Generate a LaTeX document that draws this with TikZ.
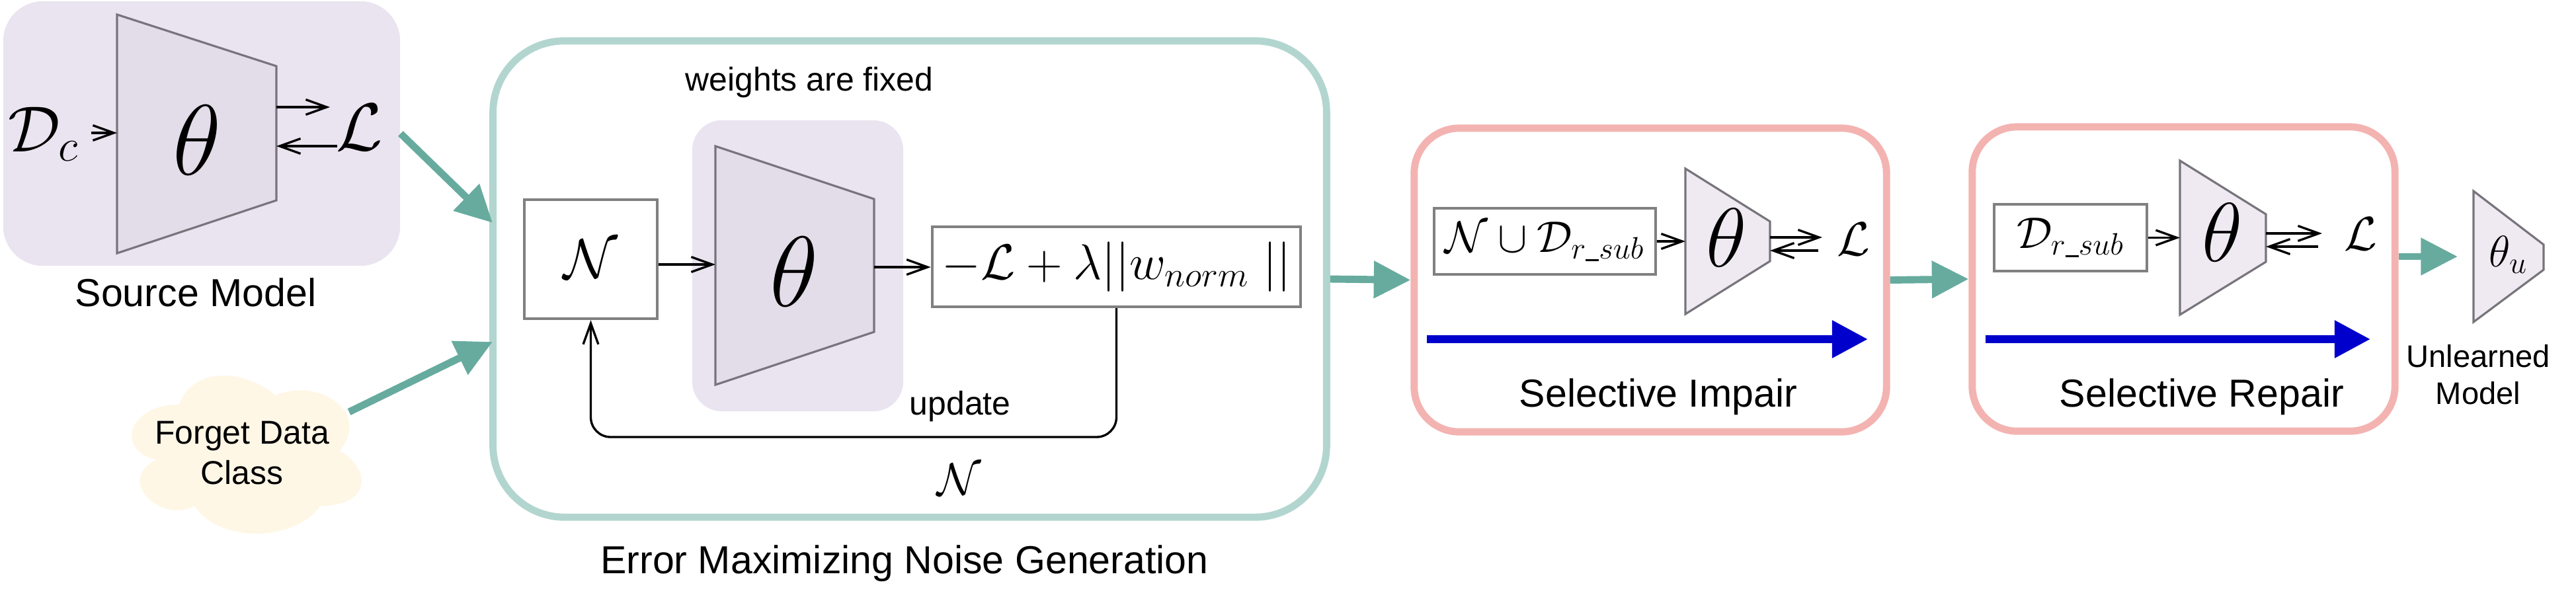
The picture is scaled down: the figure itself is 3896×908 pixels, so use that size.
\RequirePackage{fix-cm}
\documentclass[tikz,border=0pt]{standalone}
\usepackage{fontspec}
\newfontfamily\lab{Liberation Sans}
\usetikzlibrary{arrows.meta}
\definecolor{lav}{RGB}{234,228,240}
\definecolor{trapdark}{RGB}{227,221,233}
\definecolor{traplight}{RGB}{239,234,242}
\definecolor{trapgray}{RGB}{120,116,124}
\definecolor{boxgray}{RGB}{128,128,128}
\definecolor{tealc}{RGB}{103,171,159}
\definecolor{emngc}{RGB}{178,214,207}
\definecolor{pinkc}{RGB}{243,179,177}
\definecolor{bluec}{RGB}{0,0,204}
\definecolor{cloudc}{RGB}{255,247,230}
\newcommand{\usc}{\rule[-0.12ex]{0.3em}{0.045em}}
\begin{document}
\begin{tikzpicture}[x=0.01cm,y=-0.01cm,
  arr/.style={line width=0.95pt,-{Straight Barb[length=9pt,width=6.5pt]}},
  tealarr/.style={line width=3.1pt,color=tealc,-{Triangle[length=15.8pt,width=15.4pt]}},
  bluearr/.style={line width=3.4pt,color=bluec,-{Triangle[length=15.4pt,width=15.4pt]}},
  trap/.style={draw=trapgray,line width=0.9pt},
  gbox/.style={draw=boxgray,line width=1.2pt,fill=white,inner sep=0pt},
  stagebox/.style={draw=pinkc,line width=3.1pt,rounded corners=0.68cm},
  biglab/.style={font=\lab\fontsize{16.8}{20}\selectfont,inner sep=0pt},
  smalllab/.style={font=\lab\fontsize{14.2}{17.1}\selectfont,inner sep=0pt},
  mth/.style={inner sep=0pt,font=\fontsize{#1}{#1}\selectfont},
]
\useasboundingbox (0,0) rectangle (3896,908);

% ---------------- Source model ----------------
\node[fill=lav,rounded corners=0.6cm,minimum width=6cm,minimum height=4cm,inner sep=0pt] (src) at (305,202) {};
\draw[trap,fill=trapdark] (177,22) -- (418,100) -- (418,303) -- (177,383) -- cycle;
\node[mth=43] (th1) at (298,212) {$\theta$};
\node[mth=28,anchor=base west] (Dc) at (12,229) {$\mathcal{D}_c$};
\node[mth=29] (L1) at (544,193) {$\mathcal{L}$};
\coordinate (dcOut) at (138,201);
\coordinate (srcIn) at (177,201);
\coordinate (s1a) at (418,162);
\coordinate (s1b) at (499,162);
\coordinate (s2a) at (510,221);
\coordinate (s2b) at (418,221);
\draw[arr] (dcOut) -- (srcIn);
\draw[arr] (s1a) -- (s1b);
\draw[arr] (s2a) -- (s2b);
\node[biglab,anchor=base] (srclab) at (296,463) {Source Model};

% ---------------- Forget data cloud ----------------
\begin{scope}[shift={(174,542)},xscale=3.88,yscale=2.79]
\fill[cloudc] (25,25) .. controls (5,25) and (0,50) .. (16,55)
  .. controls (0,66) and (18,90) .. (31,80)
  .. controls (40,100) and (70,100) .. (80,80)
  .. controls (100,80) and (100,60) .. (87.5,50)
  .. controls (100,30) and (80,10) .. (62.5,20)
  .. controls (50,5) and (30,5) .. (25,25) -- cycle;
\end{scope}
\node[smalllab,align=center,anchor=base] (forget) at (366,732) {Forget Data\\Class};
\coordinate (cloudOut) at (528,623);

% ---------------- Error maximizing noise generation ----------------
\node[draw=emngc,line width=3.1pt,rounded corners=1.08cm,minimum width=12.6cm,minimum height=7.2cm] (emng) at (1376,422) {};
\node[fill=lav,rounded corners=0.45cm,minimum width=3.19cm,minimum height=4.4cm,inner sep=0pt] (fixbox) at (1206.5,402) {};
\draw[trap,fill=trapdark] (1082,221) -- (1322,301) -- (1322,502) -- (1082,582) -- cycle;
\node[mth=43] (th2) at (1201,411) {$\theta$};
\node[gbox,minimum width=2.01cm,minimum height=1.8cm,font=\fontsize{24}{28}\selectfont] (Nbox) at (893.5,392) {$\mathcal{N}$};
\node[gbox,minimum width=5.57cm,minimum height=1.21cm,font=\fontsize{21.5}{25}\selectfont] (loss) at (1688.5,403.5) {$-\mathcal{L}+\lambda||w_{norm}\;||$};
\coordinate (eIn) at (1082,400);
\coordinate (eOut) at (1322,404);
\coordinate (fb) at (0,661);
\draw[arr] (Nbox.east |- eIn) -- (eIn);
\draw[arr] (eOut) -- (eOut -| loss.west);
\draw[arr,rounded corners=0.3cm] (loss.south) -- (loss.south |- fb) -- (Nbox.south |- fb) -- (Nbox.south);
\node[smalllab,anchor=base] (fixed) at (1224,137) {weights are fixed};
\node[smalllab,anchor=base west] (upd) at (1375,627) {update};
\node[mth=19.5] (Nlab) at (1451,725) {$\mathcal{N}$};
\node[biglab,anchor=base] (emlab) at (1368,867) {Error Maximizing Noise Generation};

% ---------------- Selective impair ----------------
\node[stagebox,minimum width=7.14cm,minimum height=4.59cm] (impair) at (2496,423.5) {};
\node[gbox,minimum width=3.35cm,minimum height=1cm,font=\fontsize{19}{22}\selectfont] (setbox) at (2336.5,365) {$\mathcal{N}\cup\mathcal{D}_{r\usc sub}$};
\draw[trap,fill=traplight] (2549,255) -- (2677,335) -- (2677,395) -- (2549,475) -- cycle;
\node[mth=36] (th3) at (2611,360) {$\theta$};
\node[mth=20.5] (L3) at (2803,362) {$\mathcal{L}$};
\coordinate (iIn) at (2549,365);
\coordinate (iTa) at (2677,359);
\coordinate (iTb) at (2756,359);
\coordinate (iBa) at (2750,379);
\coordinate (iBb) at (2677,379);
\draw[arr] (setbox.east) -- (iIn);
\draw[arr] (iTa) -- (iTb);
\draw[arr] (iBa) -- (iBb);
\coordinate (b1s) at (2158,513);
\coordinate (b1e) at (2825,513);
\draw[bluearr] (b1s) -- (b1e);
\node[biglab,anchor=base] (implab) at (2508,615) {Selective Impair};

% ---------------- Selective repair ----------------
\node[stagebox,minimum width=6.39cm,minimum height=4.6cm] (repair) at (3302.5,422) {};
\node[gbox,minimum width=2.31cm,minimum height=1.01cm,font=\fontsize{19}{22}\selectfont] (Dbox) at (3131.5,359.5) {$\mathcal{D}_{r\usc sub}$};
\draw[trap,fill=traplight] (3297,243) -- (3427,324) -- (3427,396) -- (3297,476) -- cycle;
\node[mth=36] (th4) at (3361,352) {$\theta$};
\node[mth=20.5] (L4) at (3570,354) {$\mathcal{L}$};
\coordinate (rIn) at (3297,359.5);
\coordinate (rTa) at (3427,353);
\coordinate (rTb) at (3512,353);
\coordinate (rBa) at (3506,373);
\coordinate (rBb) at (3427,373);
\draw[arr] (Dbox.east) -- (rIn);
\draw[arr] (rTa) -- (rTb);
\draw[arr] (rBa) -- (rBb);
\coordinate (b2s) at (3003,513);
\coordinate (b2e) at (3585,513);
\draw[bluearr] (b2s) -- (b2e);
\node[biglab,anchor=base] (replab) at (3330,615) {Selective Repair};

% ---------------- Unlearned model ----------------
\draw[trap,fill=traplight] (3741,289) -- (3847,370) -- (3847,408) -- (3741,487) -- cycle;
\node[mth=19,anchor=base west] (thu) at (3764,403) {$\theta_u$};
\node[font=\lab\fontsize{13.4}{15.9}\selectfont,inner sep=0pt,align=center,anchor=base] (unl) at (3748,611) {Unlearned\\Model};
\coordinate (tuIn) at (3717,388);

% ---------------- Teal flow arrows ----------------
\coordinate (emIn1) at (745,337);
\coordinate (emIn2) at (745,517);
\draw[tealarr] (src.east) -- (emIn1);
\draw[tealarr] (cloudOut) -- (emIn2);
\draw[tealarr] (emng.east) -- (impair.west);
\draw[tealarr] (impair.east) -- (repair.west);
\draw[tealarr] (repair.east |- tuIn) -- (tuIn);
\end{tikzpicture}
\end{document}
